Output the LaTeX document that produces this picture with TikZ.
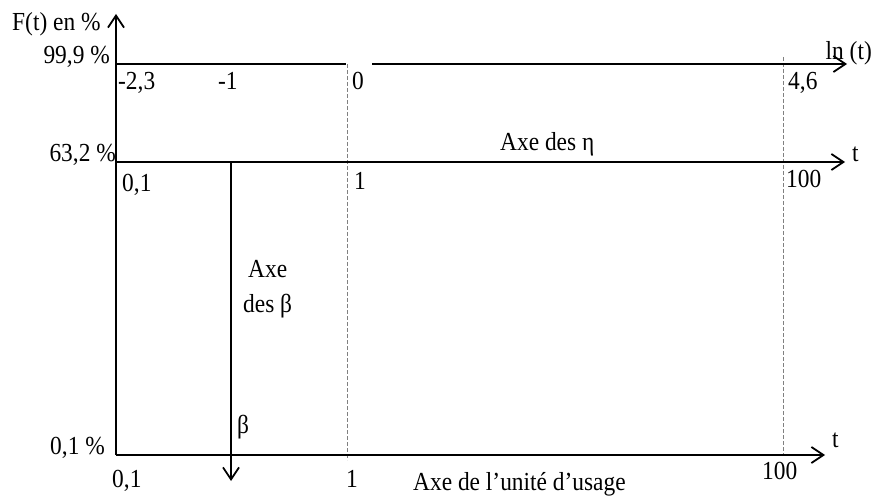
\documentclass[tikz,border=0pt]{standalone}
\usepackage{fontspec}
\setmainfont{Liberation Serif}[FakeStretch=0.9]
\usetikzlibrary{arrows.meta}
\begin{document}
\begin{tikzpicture}[x=1pt,y=-1pt,
  ax/.style={line width=2.4pt},
  axarrow/.style={line width=2.4pt,-{Straight Barb[length=12pt,width=16pt,line width=1.8pt]}},
  guide/.style={gray,line width=0.8pt,dash pattern=on 4pt off 2pt},
  lbl/.style={font=\fontsize{26}{29}\selectfont,inner sep=0pt}]
\useasboundingbox (0,0) rectangle (873,497);
% axis coordinates
\coordinate (O) at (116,455);
\coordinate (Ytop) at (116,14);
\coordinate (Ta) at (116,64);
\coordinate (Tb) at (346,64);
\coordinate (Tc) at (372,64);
\coordinate (Td) at (847,64);
\coordinate (Ma) at (116,162);
\coordinate (Mb) at (845,162);
\coordinate (Bb) at (825,455);
\coordinate (Ba) at (231,162);
\coordinate (Bz) at (231,481);
\coordinate (Ga) at (347,64);
\coordinate (Gb) at (347,460);
\coordinate (Ha) at (783,57);
\coordinate (Hb) at (783,455);
% guides
\draw[guide] (Ga) -- (Gb);
\draw[guide] (Ha) -- (Hb);
% axes
\draw[axarrow] (O) -- (Ytop);
\draw[ax] (Ta) -- (Tb);
\draw[axarrow] (Tc) -- (Td);
\draw[axarrow] (Ma) -- (Mb);
\draw[axarrow] (O) -- (Bb);
\draw[axarrow] (Ba) -- (Bz);
% labels
\node[lbl,anchor=base west] (F) at (12,31) {F(t) en \%};
\node[lbl,anchor=base east] (p999) at (110,64) {99,9 \%};
\node[lbl,anchor=base east] (p632) at (116,162) {63,2 \%};
\node[lbl,anchor=base east] (p01) at (105,454) {0,1 \%};
\node[lbl,anchor=base west] (l23) at (118,90) {-2,3};
\node[lbl,anchor=base west] (l1) at (218,90) {-1};
\node[lbl,anchor=base west] (l0) at (352,90) {0};
\node[lbl,anchor=base west] (l46) at (788,90) {4,6};
\node[lbl,anchor=base east] (lnt) at (872,60) {ln (t)};
\node[lbl,anchor=base west] (eta) at (500,151) {Axe des η};
\node[lbl,anchor=base west] (t1) at (852,162) {t};
\node[lbl,anchor=base west] (u01) at (122,192) {0,1};
\node[lbl,anchor=base west] (u1) at (354,190) {1};
\node[lbl,anchor=base west] (u100) at (786,188) {100};
\node[lbl,anchor=base west] (axe) at (248,277) {Axe};
\node[lbl,anchor=base west] (desb) at (243,312) {des β};
\node[lbl,anchor=base west] (beta) at (237,433) {β};
\node[lbl,anchor=base west] (b01) at (112,487) {0,1};
\node[lbl,anchor=base west] (b1) at (346,487) {1};
\node[lbl,anchor=base west] (usage) at (413,490) {Axe de l’unité d’usage};
\node[lbl,anchor=base west] (t2) at (832,447) {t};
\node[lbl,anchor=base west] (b100) at (762,479) {100};
\end{tikzpicture}
\end{document}
